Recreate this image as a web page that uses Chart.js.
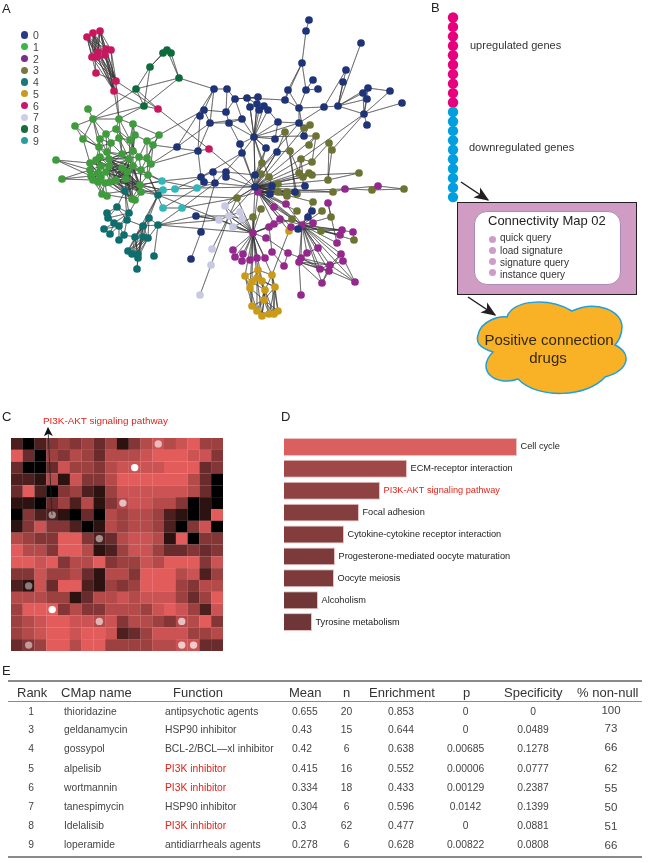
<!DOCTYPE html>
<html>
<head>
<meta charset="utf-8">
<title>Connectivity map figure</title>
<script src="https://cdn.jsdelivr.net/npm/chart.js@4"></script>
<style>
    html, body { margin: 0; padding: 0; background: #fff; }
    #page { position: relative; width: 648px; height: 863px; overflow: hidden; font-family: "Liberation Sans", Arial, sans-serif; color: #222; }
    .box { position: absolute; }
    .txt { position: absolute; white-space: nowrap; line-height: 1; }
    .rule { position: absolute; left: 8px; width: 634px; background: #8a8a8a; }
    canvas { display: block; }
</style>
</head>
<body>
<div id="page">
    <div class="box" id="net-box" style="left:0;top:0;width:430px;height:345px"><canvas id="net-chart" width="430" height="345"></canvas></div>
    <div class="box" id="bead-box" style="left:438px;top:7.5px;width:30px;height:208.3px"><canvas id="bead-chart" width="30" height="208"></canvas></div>
    <div class="box" id="heat-box" style="left:11px;top:438px;width:212px;height:213px"><canvas id="heat-chart" width="212" height="213"></canvas></div>
    <div class="box" id="bar-box" style="left:284px;top:436px;width:320px;height:197px"><canvas id="bar-chart" width="320" height="197"></canvas></div>

    <!-- panel B boxes -->
    <div class="box" style="left:457px;top:202px;width:178px;height:91px;background:#d19cc4;border:1.5px solid #231f20"></div>
    <div class="box" style="left:474px;top:211px;width:145px;height:72px;background:#fff;border:1px solid #a88bb8;border-radius:13px"></div>
    <svg class="box" style="left:0;top:0" width="648" height="863">
        <defs>
            <marker id="head" viewBox="0 0 10 10" refX="9" refY="5" markerWidth="9" markerHeight="9" orient="auto" markerUnits="userSpaceOnUse"><path d="M0 0 L10 5 L0 10 L2.5 5 Z" fill="#111"/></marker>
            <marker id="head-big" viewBox="0 0 10 10" refX="9" refY="5" markerWidth="15" markerHeight="15" orient="auto" markerUnits="userSpaceOnUse"><path d="M0 1 L10 5 L0 9 L2.5 5 Z" fill="#231f20"/></marker>
        </defs>
        <path d="M478 335 C481 320 500 316 507 317 C512 300 548 297 572 311 C595 300 622 310 622 327 C622 335 618 342 615 345 C632 353 630 370 605 377 C588 397 538 400 518 379 C495 387 475 370 493 352 C478 347 476 342 478 335 Z" fill="#f9b126" stroke="#1ea0dc" stroke-width="1.5"/>
        <line x1="461" y1="182" x2="488" y2="200" stroke="#231f20" stroke-width="1.5" marker-end="url(#head-big)"/>
        <line x1="468" y1="297" x2="495" y2="315" stroke="#231f20" stroke-width="1.5" marker-end="url(#head-big)"/>
        <line x1="52" y1="515" x2="48" y2="428" stroke="#222" stroke-width="0.8" marker-end="url(#head)"/>
    </svg>
    <div class="rule" style="top:680px;height:2px"></div>
    <div class="rule" style="top:701px;height:1px"></div>
    <div class="rule" style="top:856px;height:2px"></div>
</div>

<script>
// A: network nodes per community
const community0 = [[309,20],[306,31],[361,43],[302,63],[346,70],[313,80],[343,82],[288,90],[306,90],[318,89],[368,88],[363,93],[390,91],[367,99],[402,103],[285,100],[299,108],[324,107],[338,106],[364,114],[367,125],[214,89],[227,89],[235,99],[247,98],[258,97],[257,104],[250,107],[264,106],[259,110],[268,110],[204,110],[200,116],[226,112],[242,119],[210,123],[229,123],[278,122],[299,123],[254,137],[275,139],[304,136],[240,144],[266,148],[242,153],[277,152],[198,151],[201,177],[213,172],[226,172],[226,177],[204,182],[215,183],[255,175],[255,187],[272,186],[305,186],[270,194],[295,192],[312,211],[308,217],[298,229],[196,216],[201,232],[191,259],[177,147]];
const community1 = [[88,109],[93,119],[119,119],[75,126],[116,129],[133,124],[106,134],[135,135],[159,135],[83,139],[100,139],[119,138],[111,143],[130,140],[147,141],[153,145],[99,147],[107,152],[133,151],[122,154],[56,160],[90,163],[100,157],[96,160],[109,159],[129,159],[139,157],[147,158],[151,164],[133,166],[90,170],[101,166],[109,166],[141,170],[91,176],[98,173],[106,172],[122,168],[127,172],[148,175],[62,179],[93,180],[98,182],[101,177],[126,179],[105,183],[110,182],[116,180],[140,185],[141,192],[102,194],[107,196],[132,199],[135,200]];
const community2 = [[258,192],[378,186],[345,189],[328,203],[274,207],[286,204],[280,219],[313,223],[302,225],[274,224],[269,227],[291,227],[253,233],[266,238],[342,230],[340,235],[353,232],[337,243],[318,248],[233,250],[243,254],[272,252],[288,253],[307,253],[341,254],[235,257],[242,261],[250,260],[257,258],[265,258],[301,258],[299,262],[343,261],[284,266],[330,265],[329,271],[320,269],[322,283],[355,282],[301,295]];
const community3 = [[285,132],[304,128],[310,125],[316,136],[309,145],[329,143],[332,150],[290,151],[262,163],[301,159],[312,162],[261,174],[269,177],[299,173],[303,177],[309,173],[312,175],[328,180],[359,173],[278,184],[278,192],[287,192],[287,196],[297,194],[333,192],[372,190],[404,189],[237,198],[313,202],[261,209],[297,211],[322,211],[331,217],[253,217],[292,219],[321,231],[354,240]];
const community4 = [[125,191],[158,195],[117,207],[107,213],[129,213],[108,218],[149,218],[127,220],[114,223],[119,226],[158,225],[143,226],[104,229],[110,234],[124,235],[135,237],[143,237],[148,238],[119,240],[128,251],[132,254],[138,254],[138,258],[154,256],[137,269]];
const community5 = [[289,231],[258,270],[245,276],[272,275],[257,278],[252,282],[262,281],[275,287],[250,288],[265,290],[264,300],[252,306],[257,311],[278,311],[262,316],[269,314],[274,314]];
const community6 = [[87,37],[93,33],[100,31],[98,52],[106,49],[111,50],[92,57],[97,57],[105,55],[96,73],[116,81],[114,91],[158,109],[209,149]];
const community7 = [[225,206],[240,212],[229,216],[219,220],[242,219],[233,227],[212,249],[211,265],[200,295]];
const community8 = [[167,50],[163,53],[171,53],[150,67],[179,78],[136,89],[144,106]];
const community9 = [[162,181],[163,190],[175,189],[197,188],[163,208],[182,208]];
const communityLabels = ['0','1','2','3','4','5','6','7','8','9'];
const communityColors = ['#1f3478','#3f9c3d','#94288d','#6d7433','#0e6e6d','#cb9a17','#c8165f','#c9c9e6','#0e6b3b','#31b7b9'];
const legendColors = ['#2b3a87','#3cb54a','#7b2d8b','#7a7a3f','#1a7a7a','#c99a20','#c9186c','#cdcdea','#1a6b3f','#2a9d9d'];

// edges as fans: first id is the hub, the rest its neighbours. id = community*100 + index
const edgeFans = [
    [600,603,604,606,607,608,609,610,611],[601,603,604,606,607,608,609,610,611],[602,603,604,605,606,607,608,610,611],
    [603,610,611,605],[604,610,611],[605,610,611],[606,610,611],[607,610,611],[608,610,611],[609,610],[610,611,612,102],[611,806,102],[612,805,806,613],[613,54,46],
    [800,801,802,803,804],[801,802,803],[802,804],[803,805,806],[804,805,806,21],[805,806,101],[806,101,102],
    [101,100,103,102,109,110,106,116],[102,104,105,119,113],[103,116,109],[104,106,111,113,118],[105,107,113,118],[107,113,114,118,125],[108,105,114,127,31,115],
    [120,121,130,134],[140,130,134,141],
    [124,125,129,132,136,137,138,144,147,118,119,126,133,148,149,400],[125,132,136,137,138,144,146,147,129,133,148,149],[129,132,136,137,138,144,146,147,148,149,152,400],
    [132,136,137,138,144,146,147,148,149,121,123],[136,137,138,144,146,147,148,149,152,135,143],[137,138,144,146,147,148,149,152,133],[138,144,146,147,148,149,152,133,139],
    [144,146,147,148,149,152,153,400],[146,147,148,149,152,153,400],[147,148,149,152,153,400,401],[148,149,152,133,139,400,401,900,901],[149,152,401,404],
    [121,122,123,124,130,131,134,135,141,142,143],[122,123,124,131,132,135],[123,124,131,132,135,136],[130,131,134,135,141],[131,132,134,135,136,143],[134,135,141,142,143],[135,136,141,142,143],
    [141,142,143,145,150],[142,143,145,150,151],[145,146,150,151,152],[150,151,152,400],[116,117,122,123,109,110,112,124],[117,119,124,125,112],[118,119,125,126,129],[119,125,129,132],
    [126,127,128,129,133],[127,128,133,139],[128,133,139,65,46],[133,139,148],[114,115,126,127],[115,127,128,46],[110,116,117,112],[106,112,117],[111,112,119,125,113],[112,119,124],[113,118,125,126],[109,116,121],
    [900,133,139,148,903,47],[901,148,902,149],[902,903,47],[903,51,52,54,904],[904,905,139],[905,327,410,52],
    [400,402,404,407,152],[401,406,411,415,327,212,139],[406,410,411,415,416,417],[402,403,404,405,407],[411,415,416,417,419,420,421,422],[416,419,420,421,422],[417,419,420,421,422],[415,419,420,421,422],
    [423,410],[424,422,421],[404,407,408,409,405],[407,409,411,414],[408,403,405,412,413],[409,413,414,418,412],[414,418,415],[410,417,411,62,212],
    [702,700,701,703,704,705,62,212,327,54,706,707],[700,54,53],[701,212],[703,62,212,410],[705,212,333],[704,212],[707,708],
    [64,63],[63,52],[62,703],[0,1],[1,3],[3,7,15,8],[8,5,9,16],[2,18],[4,17,18],[6,18],[18,17,11,13,19,10],[10,12],[19,12,14,11,20,13,10,309,306],[17,16,38],[15,16,24,7],[7,16],[16,38,41],[38,41,39,301],
    [21,22,35,31,65],[22,23,33],[23,24,25,34],[24,25,26],[25,26,29,39],[27,24,39],[28,39,30],[29,39],[30,37,39],[31,32,33,35],[33,36,23],[34,39,36,35],[35,65,36,46],[36,39,42],[37,38,40,39],[38,53],
    [39,26,27,40,42,44,43,53,54,41],[42,44,54],[44,52,47,54],[46,47,32],[47,48,51],[48,49,52],[49,50,53],[50,54],[52,51,54],[43,53,39],[45,53,54],
    [54,200,53,57,55,43,45,56,58,320,321,323,317,324,328,301,303,309,310,313,314,315,316,204,205,208,212,327],
    [200,204,205,206,208,209,211,212,202,323,322,330,334,321,327],
    [212,219,220,225,226,227,228,229,327,333,209,210,213,700,702,501,502,503,504,505,506,508],
    [208,205,207,214,215,216,217,218,223,224,230,231,232,234,235,236,237,238,500,204,206],
    [222,233,230,213],[223,230,231,218],[224,234,235,238],[234,235,236,237,238,232],[235,236,237,238],[231,234,235,236,237,239],[230,234,235,236],[221,233,210],[217,203],[201,202,326,325],[325,202,326],
    [501,502,503,504,505,506],[502,508,511,505],[504,505,506,507,509,512,514],[503,507,509,516,513],[505,508,509,511],[506,509,507,510],[508,511,512,510],[509,510,512,514,515,516],[507,513,516,515,510],[510,511,512,514,515,513,516],[511,512,514],[512,514,515],[513,516,515],[514,515,516],[515,516],[500,200,503],
    [303,304,310,41],[305,306,310,317],[306,317],[309,310,313,314],[302,301,41],[300,45,40],[307,45,58],[308,53,39],[318,316,317],[311,54],[312,54],[319,54,200],[320,200],[322,54],[323,300],[324,200,202],[329,212],[331,208],[332,208,203],[333,212],[334,212],[335,208,214,215],[336,208,216],[328,208],
    [56,307],[57,200],[55,39],[59,60,208],[60,208],[61,208,214]
];

// B: gene ranks in the query signature
const upregulatedRanks = [1,2,3,4,5,6,7,8,9,10];
const downregulatedRanks = [11,12,13,14,15,16,17,18,19,20];
const queryOptions = ['quick query','load signature','signature query','instance query'];

// C: heatmap shade per cell, 0 = black .. 8 = brightest red
const heatRow0 = [2,0,2,4,5,4,5,3,5,1,4,6,7,6,7,8,5,5];
const heatRow1 = [8,3,0,5,4,6,5,3,6,6,6,7,8,8,8,7,7,4];
const heatRow2 = [3,0,0,3,7,5,5,4,6,7,7,7,7,8,8,8,3,4];
const heatRow3 = [2,2,1,6,1,7,4,4,6,8,8,8,8,8,8,6,3,0];
const heatRow4 = [3,8,2,0,4,5,2,1,5,7,7,7,7,7,7,6,3,0];
const heatRow5 = [1,1,0,3,5,2,6,1,4,6,7,7,6,6,4,0,1,0];
const heatRow6 = [0,4,2,2,1,0,3,0,6,5,6,6,5,2,1,0,1,8];
const heatRow7 = [1,4,7,4,4,2,0,1,6,5,6,6,5,2,0,4,7,0];
const heatRow8 = [6,5,4,4,8,8,4,2,3,6,7,7,6,1,8,0,4,4];
const heatRow9 = [8,6,6,4,8,8,6,1,2,5,7,7,5,3,3,4,3,4];
const heatRow10 = [8,8,7,8,4,6,6,8,4,5,5,7,6,8,8,8,4,7];
const heatRow11 = [4,4,7,5,5,6,3,1,6,6,4,8,8,8,6,7,2,5];
const heatRow12 = [2,1,7,3,8,8,2,1,5,4,5,8,8,8,5,4,6,6];
const heatRow13 = [6,6,6,5,5,1,3,6,6,7,6,7,7,7,5,3,5,8];
const heatRow14 = [5,8,8,8,4,6,4,4,6,6,6,5,7,8,7,5,2,7];
const heatRow15 = [5,6,7,8,8,7,7,6,7,4,6,6,5,4,6,6,8,4];
const heatRow16 = [5,6,7,8,8,7,8,8,7,2,3,5,7,7,7,5,5,6];
const heatRow17 = [3,4,5,8,8,6,8,8,5,5,5,5,6,6,7,7,3,3];
const heatRows = [heatRow0,heatRow1,heatRow2,heatRow3,heatRow4,heatRow5,heatRow6,heatRow7,heatRow8,heatRow9,heatRow10,heatRow11,heatRow12,heatRow13,heatRow14,heatRow15,heatRow16,heatRow17];
const dotCols = [12,10,9,3,7,1,3,7,14,1,14,15];
const dotRows = [0,2,5,6,8,12,14,15,15,17,17,17];
const dotOpacity = [0.6,1,0.65,0.5,0.5,0.45,1,0.6,0.65,0.5,0.7,0.7];

// D: enriched pathways
const pathways = ['Cell cycle','ECM-receptor interaction','PI3K-AKT signaling pathway','Focal adhesion','Cytokine-cytokine receptor interaction','Progesterone-mediated oocyte maturation','Oocyte meiosis','Alcoholism','Tyrosine metabolism'];
const pathwayScores = [233,123,96,75,60,51,50,34,28];
const pathwayColors = ['#d9605f','#9e4848','#8f4242','#853e3e','#833d3d','#7d3a3a','#7c3a3a','#713737','#6e3636'];

// E: table columns
const ranks = ['1','3','4','5','6','7','8','9'];
const drugNames = ['thioridazine','geldanamycin','gossypol','alpelisib','wortmannin','tanespimycin','Idelalisib','loperamide'];
const drugFunctions = ['antipsychotic agents','HSP90 inhibitor','BCL-2/BCL\u2014xl inhibitor','PI3K inhibitor','PI3K inhibitor','HSP90 inhibitor','PI3K inhibitor','antidiarrheals agents'];
const means = ['0.655','0.43','0.42','0.415','0.334','0.304','0.3','0.278'];
const ns = ['20','15','6','16','18','6','62','6'];
const enrichments = ['0.853','0.644','0.638','0.552','0.433','0.596','0.477','0.628'];
const pValues = ['0','0','0.00685','0.00006','0.00129','0.0142','0','0.00822'];
const specificities = ['0','0.0489','0.1278','0.0777','0.2387','0.1399','0.0881','0.0808'];
const nonNulls = ['100','73','66','62','55','50','51','66'];

const page = document.getElementById('page');
const communities = [community0,community1,community2,community3,community4,community5,community6,community7,community8,community9];

function putText(text, x, y, size, color, centered) {
    const el = document.createElement('span');
    el.className = 'txt';
    el.textContent = text;
    el.style.left = x + 'px';
    el.style.top = y + 'px';
    el.style.fontSize = size + 'px';
    el.style.color = color || '#222';
    el.style.transform = centered ? 'translate(-50%,-50%)' : 'translateY(-50%)';
    page.appendChild(el);
}

function hiddenScale(min, max, reverse) {
    return { type: 'linear', min: min, max: max, reverse: !!reverse, display: false };
}

const quietOptions = {
    responsive: false,
    animation: false,
    events: [],
    layout: { padding: 0, autoPadding: false },
    plugins: { legend: { display: false }, tooltip: { enabled: false } }
};

// --- A network ---
function nodeAt(id) {
    const xy = communities[Math.floor(id / 100)][id % 100];
    return { x: xy[0], y: xy[1] };
}

const nodeSets = communities.map((nodes, i) => ({
    label: communityLabels[i],
    data: nodes.map(n => ({ x: n[0], y: n[1] })),
    backgroundColor: communityColors[i],
    borderWidth: 0,
    pointRadius: 3.85
}));

const edgeSets = edgeFans.map(fan => {
    const hub = nodeAt(fan[0]);
    const path = [hub];
    fan.slice(1).forEach(id => { path.push(nodeAt(id)); path.push(hub); });
    return {
        data: path,
        showLine: true,
        pointRadius: 0,
        tension: 0.0001,
        borderColor: 'rgba(50,50,50,0.65)',
        borderWidth: 0.7
    };
});

new Chart(document.getElementById('net-chart'), {
    type: 'scatter',
    data: { datasets: nodeSets.concat(edgeSets) },
    options: { ...quietOptions, scales: { x: hiddenScale(0, 430), y: hiddenScale(0, 345, true) } }
});

communityLabels.forEach((label, i) => {
    const y = 35 + i * 11.75;
    const dot = document.createElement('div');
    dot.className = 'box';
    dot.style.cssText = `left:20.5px;top:${y - 3.7}px;width:7.4px;height:7.4px;border-radius:50%;background:${legendColors[i]}`;
    page.appendChild(dot);
    putText(label, 33, y, 10.5, '#444');
});

// --- B beads ---
new Chart(document.getElementById('bead-chart'), {
    type: 'scatter',
    data: {
        datasets: [
            { data: downregulatedRanks.map(r => ({ x: 0, y: r })), backgroundColor: '#00a0e0', borderWidth: 0, pointRadius: 5.2 },
            { data: upregulatedRanks.map(r => ({ x: 0, y: r })), backgroundColor: '#e6007e', borderWidth: 0, pointRadius: 5.2 }
        ]
    },
    options: { ...quietOptions, scales: { x: hiddenScale(-1, 1), y: hiddenScale(0, 22, true) } }
});

putText('upregulated genes', 470, 45, 11, '#333');
putText('downregulated genes', 469, 147, 11, '#333');
putText('Connectivity Map 02', 488, 220, 13, '#222');
const queryDotY = [239, 250, 261, 272];
const queryTextY = [238, 251, 263, 275];
queryOptions.forEach((q, i) => {
    const dot = document.createElement('div');
    dot.className = 'box';
    dot.style.cssText = `left:488.5px;top:${queryDotY[i] - 3.5}px;width:7px;height:7px;border-radius:50%;background:#cf9cc5`;
    page.appendChild(dot);
    putText(q, 500, queryTextY[i], 10, '#333');
});
putText('Positive connection', 549, 339, 15, '#332a14', true);
putText('drugs', 548, 357, 15, '#332a14', true);

// --- C heatmap ---
function heatColor(v) {
    const t = Math.pow(v / 8, 0.78);
    return `rgb(${Math.round(226 * t)},${Math.round(92 * t)},${Math.round(92 * t)})`;
}

const heatCells = [];
heatRows.forEach((row, r) => row.forEach((v, c) => heatCells.push({ x: c, y: r, v: v })));

new Chart(document.getElementById('heat-chart'), {
    type: 'scatter',
    data: {
        datasets: [
            {
                data: dotCols.map((c, i) => ({ x: c, y: dotRows[i] })),
                backgroundColor: dotOpacity.map(o => `rgba(255,255,255,${o})`),
                borderWidth: 0,
                pointRadius: 3.7
            },
            {
                data: heatCells,
                pointStyle: 'rect',
                pointRadius: 8.45,
                borderWidth: 0,
                backgroundColor: ctx => heatColor(ctx.raw.v)
            }
        ]
    },
    options: { ...quietOptions, scales: { x: hiddenScale(-0.5, 17.5), y: hiddenScale(-0.5, 17.5, true) } }
});

putText('PI3K-AKT signaling pathway', 43, 421, 9.9, '#e2231a');

// --- D bars, labels sit just past the bar ends ---
const barLabels = {
    id: 'barLabels',
    afterDatasetsDraw(chart) {
        const ctx = chart.ctx;
        ctx.save();
        ctx.font = '9.2px "Liberation Sans", Arial, sans-serif';
        ctx.textBaseline = 'middle';
        chart.getDatasetMeta(0).data.forEach((bar, i) => {
            ctx.fillStyle = pathways[i].startsWith('PI3K') ? '#e2231a' : '#222';
            ctx.fillText(pathways[i], bar.x + 3.5, bar.y);
        });
        ctx.restore();
    }
};

new Chart(document.getElementById('bar-chart'), {
    type: 'bar',
    data: {
        labels: pathways,
        datasets: [{
            data: pathwayScores,
            backgroundColor: pathwayColors,
            borderColor: '#ecc0c0',
            borderWidth: 1,
            barPercentage: 0.82,
            categoryPercentage: 1
        }]
    },
    options: {
        ...quietOptions,
        indexAxis: 'y',
        scales: { x: hiddenScale(0, 320), y: { type: 'category', display: false } }
    },
    plugins: [barLabels]
});

// --- E table ---
const headerLabels = ['Rank','CMap name','Function','Mean','n','Enrichment','p','Specificity','% non-null'];
const headerX = [17,61,173,289,343,369,463,504,577];
headerLabels.forEach((h, i) => putText(h, headerX[i], 692, 13, '#333'));

const rowY = [712,730,749,769,788,807,826,845];
const nonNullY = [711,729,748,769,789,808,827,846];
ranks.forEach((rank, i) => {
    const y = rowY[i];
    putText(rank, 31, y, 10.3, '#444', true);
    putText(drugNames[i], 64, y, 10.3, '#444');
    putText(drugFunctions[i], 165, y, 10.3, drugFunctions[i].startsWith('PI3K') ? '#e2231a' : '#444');
    putText(means[i], 292, y, 10.3, '#444');
    putText(ns[i], 346.5, y, 10.3, '#444', true);
    putText(enrichments[i], 401, y, 10.3, '#444', true);
    putText(pValues[i], 465.5, y, 10.3, '#444', true);
    putText(specificities[i], 533, y, 10.3, '#444', true);
    putText(nonNulls[i], 611, nonNullY[i], 11.5, '#444', true);
});

// panel letters
putText('A', 2, 8, 13, '#222');
putText('B', 431, 7, 13, '#222');
putText('C', 2, 416, 13, '#222');
putText('D', 281, 416, 13, '#222');
putText('E', 2, 670, 13, '#222');
</script>
</body>
</html>
